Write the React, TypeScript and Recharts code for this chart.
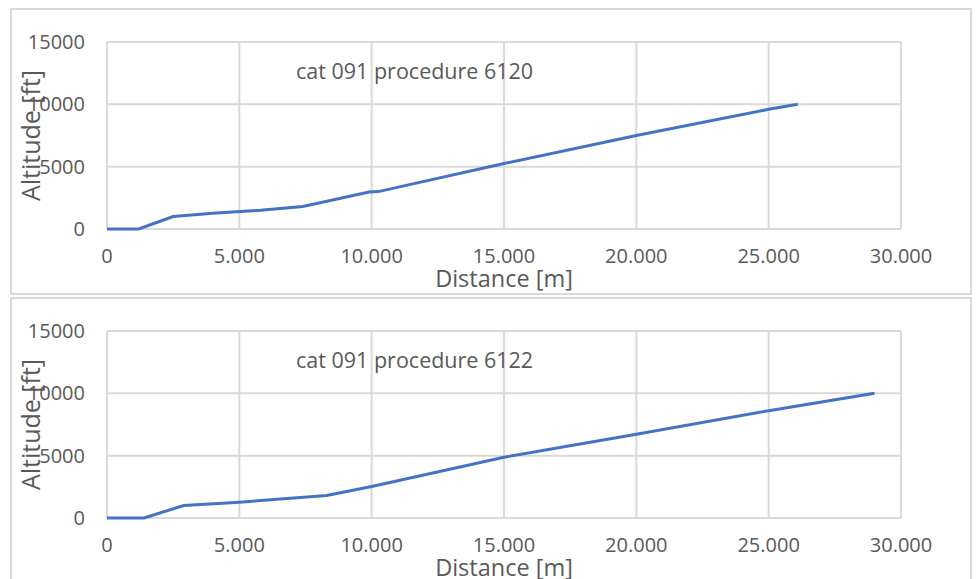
import React from "react";
import { LineChart, Line, XAxis, YAxis, CartesianGrid, Label } from "recharts";

// procedure 6120
const dist6120 = [0, 1200, 2500, 4000, 5800, 7400, 9900, 10250, 15000, 20000, 25000, 26100];
const alt6120 = [0, 0, 1000, 1270, 1500, 1800, 2970, 3000, 5250, 7500, 9600, 10000];

// procedure 6122
const dist6122 = [0, 1400, 2900, 5000, 8300, 10000, 15000, 20000, 25000, 29000];
const alt6122 = [0, 0, 1000, 1270, 1800, 2520, 4870, 6720, 8610, 10000];

const xTicks = [0, 5000, 10000, 15000, 20000, 25000, 30000];
const yTicks = [0, 5000, 10000, 15000];

const FONT = "'Open Sans', sans-serif";
const TEXT = "#595959";
const GRID = "#d9d9d9";

const fmtX = (v: number) => (v === 0 ? "0" : v.toLocaleString("de-DE"));

function Panel({ title, dist, alt, top }: { title: string; dist: number[]; alt: number[]; top: number }) {
  const data = dist.map((d, i) => ({ d, a: alt[i] }));
  return (
    <div
      style={{
        position: "absolute",
        left: 2,
        top,
        width: 958,
        height: 283,
        border: `2px solid ${GRID}`,
        background: "#fff",
      }}
    >
      <div style={{ position: "absolute", left: -4, top: -2 }}>
        <LineChart width={964} height={286} data={data} margin={{ top: 34, right: 71, left: 0, bottom: 0 }}>
          <CartesianGrid stroke={GRID} strokeWidth={2} />
          <XAxis
            dataKey="d"
            type="number"
            domain={[0, 30000]}
            ticks={xTicks}
            tickFormatter={fmtX}
            axisLine={false}
            tickLine={false}
            tickSize={0}
            tickMargin={20}
            height={65}
            tick={{ fill: TEXT, fontSize: 20, fontFamily: FONT }}
          >
            <Label
              value="Distance [m]"
              position="insideBottom"
              offset={7}
              style={{ fill: TEXT, fontSize: 23.5, fontFamily: FONT }}
            />
          </XAxis>
          <YAxis
            type="number"
            domain={[0, 15000]}
            ticks={yTicks}
            axisLine={false}
            tickLine={false}
            tickSize={0}
            tickMargin={22}
            width={99}
            tick={{ fill: TEXT, fontSize: 20, fontFamily: FONT }}
          >
            <Label
              value="Altitude [ft]"
              position="insideLeft"
              angle={-90}
              offset={23}
              style={{ fill: TEXT, fontSize: 25, fontFamily: FONT, textAnchor: "middle" }}
            />
          </YAxis>
          <Line
            type="linear"
            dataKey="a"
            stroke="#4472C4"
            strokeWidth={3}
            dot={false}
            isAnimationActive={false}
          />
        </LineChart>
      </div>
      <div
        style={{
          position: "absolute",
          left: 284,
          top: 50,
          fontFamily: FONT,
          fontSize: 21.5,
          lineHeight: "21px",
          color: TEXT,
          whiteSpace: "nowrap",
        }}
      >
        {title}
      </div>
    </div>
  );
}

export default function App() {
  return (
    <div style={{ position: "relative", width: 964, height: 571 }}>
      <Panel title="cat 091 procedure 6120" dist={dist6120} alt={alt6120} top={0} />
      <Panel title="cat 091 procedure 6122" dist={dist6122} alt={alt6122} top={289} />
    </div>
  );
}
